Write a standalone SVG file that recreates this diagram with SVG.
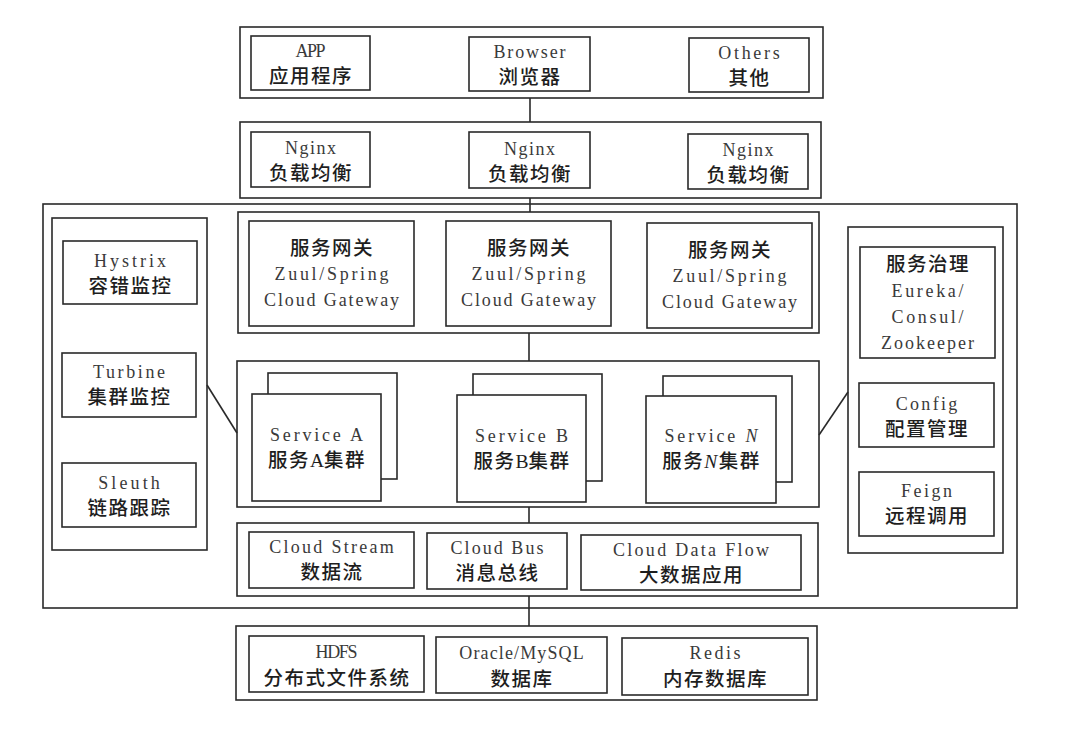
<svg xmlns="http://www.w3.org/2000/svg" width="1072" height="732" viewBox="0 0 1072 732">
<style>
rect{fill:#fff;stroke:#2a2a2a;stroke-width:1.6}
.c line{stroke:#2a2a2a;stroke-width:1.6}
text{text-anchor:middle}
.en{font-family:"Liberation Serif","DejaVu Serif",serif;font-size:18px;fill:#3a3a3a}
.zh{font-family:"Noto Sans CJK SC","Noto Sans",sans-serif;font-size:19.5px;font-weight:500;letter-spacing:1.5px;fill:#1e1e1e}
.it{font-family:"Liberation Serif",serif;font-style:italic;font-weight:400}
.ia{font-family:"Liberation Serif",serif;font-weight:400;letter-spacing:0}
</style>
<rect x="0" y="0" width="1072" height="732" style="fill:#fff;stroke:none"/>

<g id="client-layer">
<rect x="240" y="27" width="583" height="71"/>
<g id="app"><rect x="251" y="36" width="119" height="54"/><text class="en" x="310.5" y="57" textLength="30" lengthAdjust="spacing">APP</text><text class="zh" x="311" y="83">应用程序</text></g>
<g id="browser"><rect x="469" y="37" width="121" height="54"/><text class="en" x="529.5" y="58" textLength="72" lengthAdjust="spacing">Browser</text><text class="zh" x="530" y="84">浏览器</text></g>
<g id="others"><rect x="689" y="38" width="120" height="54"/><text class="en" x="749" y="59" textLength="61.5" lengthAdjust="spacing">Others</text><text class="zh" x="749.5" y="85">其他</text></g>
</g>

<g id="lb-layer">
<rect x="240" y="122" width="581" height="76"/>
<g id="nginx-1"><rect x="251" y="132" width="119" height="55"/><text class="en" x="310.5" y="154" textLength="51" lengthAdjust="spacing">Nginx</text><text class="zh" x="311" y="180">负载均衡</text></g>
<g id="nginx-2"><rect x="469" y="132" width="121" height="56"/><text class="en" x="529.5" y="155" textLength="51" lengthAdjust="spacing">Nginx</text><text class="zh" x="530" y="181">负载均衡</text></g>
<g id="nginx-3"><rect x="688" y="134" width="120" height="55"/><text class="en" x="748" y="156" textLength="51" lengthAdjust="spacing">Nginx</text><text class="zh" x="748.5" y="182">负载均衡</text></g>
</g>

<g id="platform"><rect x="43" y="204" width="974" height="404"/></g>

<g id="monitor-panel">
<rect x="52" y="218" width="155" height="332"/>
<g id="hystrix"><rect x="63" y="241" width="134" height="63"/><text class="en" x="130" y="267" textLength="72" lengthAdjust="spacing">Hystrix</text><text class="zh" x="130.5" y="293">容错监控</text></g>
<g id="turbine"><rect x="62" y="353" width="134" height="64"/><text class="en" x="129" y="378" textLength="72" lengthAdjust="spacing">Turbine</text><text class="zh" x="129.5" y="404">集群监控</text></g>
<g id="sleuth"><rect x="62" y="463" width="134" height="64"/><text class="en" x="129" y="489" textLength="61.5" lengthAdjust="spacing">Sleuth</text><text class="zh" x="129.5" y="515">链路跟踪</text></g>
</g>

<g id="gateway-layer">
<rect x="238" y="212" width="581" height="121"/>
<g id="gateway-1"><rect x="249" y="221" width="165" height="105"/><text class="zh" x="332" y="255">服务网关</text><text class="en" x="331.5" y="280" textLength="114" lengthAdjust="spacing">Zuul/Spring</text><text class="en" x="331.5" y="306" textLength="135" lengthAdjust="spacing">Cloud Gateway</text></g>
<g id="gateway-2"><rect x="446" y="221" width="165" height="105"/><text class="zh" x="529" y="255">服务网关</text><text class="en" x="528.5" y="280" textLength="114" lengthAdjust="spacing">Zuul/Spring</text><text class="en" x="528.5" y="306" textLength="135" lengthAdjust="spacing">Cloud Gateway</text></g>
<g id="gateway-3"><rect x="647" y="223" width="165" height="105"/><text class="zh" x="730" y="257">服务网关</text><text class="en" x="729.5" y="282" textLength="114" lengthAdjust="spacing">Zuul/Spring</text><text class="en" x="729.5" y="308" textLength="135" lengthAdjust="spacing">Cloud Gateway</text></g>
</g>

<g id="service-layer">
<rect x="237" y="361" width="582" height="146"/>
<g id="service-a"><rect x="268" y="373" width="129" height="106"/><rect x="252" y="394" width="129" height="107"/><text class="en" x="316.5" y="441" textLength="93" lengthAdjust="spacing">Service A</text><text class="zh" x="317" y="467">服务<tspan class="ia">A</tspan>集群</text></g>
<g id="service-b"><rect x="473" y="374" width="129" height="107"/><rect x="457" y="395" width="129" height="107"/><text class="en" x="521.5" y="442" textLength="93" lengthAdjust="spacing">Service B</text><text class="zh" x="522" y="468">服务<tspan class="ia">B</tspan>集群</text></g>
<g id="service-n"><rect x="663" y="376" width="129" height="106"/><rect x="646" y="396" width="130" height="107"/><text class="en" x="711" y="442" textLength="93" lengthAdjust="spacing">Service <tspan class="it">N</tspan></text><text class="zh" x="711.5" y="468">服务<tspan class="it">N</tspan>集群</text></g>
</g>

<g id="stream-layer">
<rect x="237" y="523" width="581" height="73"/>
<g id="cloud-stream"><rect x="249" y="532" width="165" height="56"/><text class="en" x="331.5" y="553" textLength="124.5" lengthAdjust="spacing">Cloud Stream</text><text class="zh" x="332" y="579">数据流</text></g>
<g id="cloud-bus"><rect x="427" y="533" width="140" height="56"/><text class="en" x="497" y="554" textLength="93" lengthAdjust="spacing">Cloud Bus</text><text class="zh" x="497.5" y="580">消息总线</text></g>
<g id="cloud-data-flow"><rect x="581" y="535" width="220" height="55"/><text class="en" x="691" y="556" textLength="156" lengthAdjust="spacing">Cloud Data Flow</text><text class="zh" x="691.5" y="582">大数据应用</text></g>
</g>

<g id="governance-panel">
<rect x="848" y="227" width="155" height="326"/>
<g id="registry"><rect x="860" y="247" width="135" height="111"/><text class="zh" x="928" y="271">服务治理</text><text class="en" x="927.5" y="297" textLength="72" lengthAdjust="spacing">Eureka/</text><text class="en" x="927.5" y="323" textLength="72" lengthAdjust="spacing">Consul/</text><text class="en" x="927.5" y="349" textLength="93" lengthAdjust="spacing">Zookeeper</text></g>
<g id="config"><rect x="859" y="383" width="135" height="64"/><text class="en" x="926.5" y="410" textLength="61.5" lengthAdjust="spacing">Config</text><text class="zh" x="927" y="436">配置管理</text></g>
<g id="feign"><rect x="859" y="472" width="135" height="64"/><text class="en" x="926.5" y="497" textLength="51" lengthAdjust="spacing">Feign</text><text class="zh" x="927" y="523">远程调用</text></g>
</g>

<g id="data-layer">
<rect x="236" y="626" width="581" height="74"/>
<g id="hdfs"><rect x="249" y="636" width="175" height="56"/><text class="en" x="336.5" y="658" textLength="42" lengthAdjust="spacing">HDFS</text><text class="zh" x="337" y="685">分布式文件系统</text></g>
<g id="rdbms"><rect x="436" y="637" width="171" height="56"/><text class="en" x="521.5" y="659" textLength="124.5" lengthAdjust="spacing">Oracle/MySQL</text><text class="zh" x="522" y="686">数据库</text></g>
<g id="redis"><rect x="622" y="638" width="186" height="57"/><text class="en" x="715" y="659" textLength="51" lengthAdjust="spacing">Redis</text><text class="zh" x="715.5" y="686">内存数据库</text></g>
</g>

<g id="connectors" class="c">
<line x1="530" y1="98" x2="530" y2="122"/>
<line x1="530" y1="198" x2="530" y2="212"/>
<line x1="529" y1="333" x2="529" y2="361"/>
<line x1="529" y1="507" x2="529" y2="523"/>
<line x1="529" y1="596" x2="529" y2="626"/>
<line x1="207" y1="385" x2="237" y2="433"/>
<line x1="819" y1="435" x2="848" y2="392"/>
</g>
</svg>
